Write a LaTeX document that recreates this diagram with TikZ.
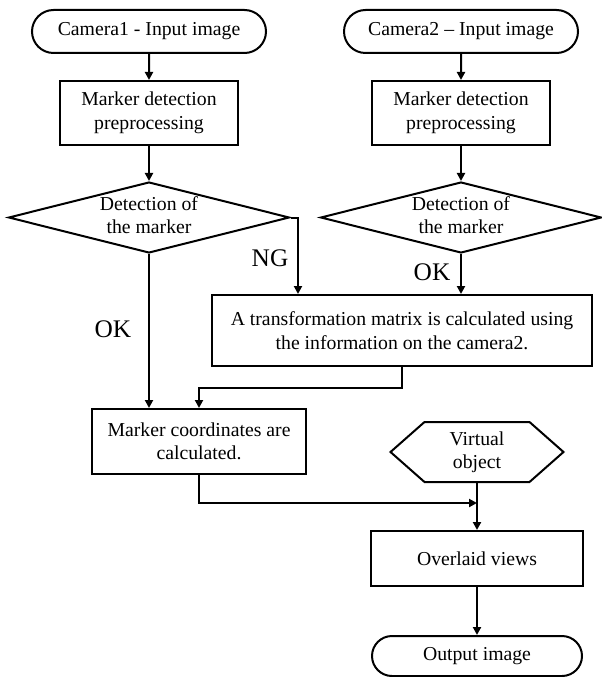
\documentclass[tikz,border=0pt]{standalone}
\usepackage{fontspec}
\setmainfont{Liberation Serif}
\usetikzlibrary{shapes.misc,shapes.geometric,arrows.meta}
\begin{document}
\begin{tikzpicture}[x=0.75pt,y=-0.75pt,
  line width=1.5pt,
  font=\fontsize{14.8}{17.6}\selectfont,
  term/.style={draw,rounded rectangle,inner sep=0pt,align=center},
  proc/.style={draw,rectangle,inner sep=0pt,align=center},
  dia/.style={draw,diamond,inner sep=0pt,minimum width=210.75pt,minimum height=53.25pt},
  txt/.style={inner sep=0pt,align=center},
  lbl/.style={inner sep=0pt,font=\fontsize{19}{22}\selectfont},
  arr/.style={-{Triangle[length=6pt,width=6pt]},line join=miter}]
\useasboundingbox (0,0) rectangle (601,677);

% left column
\node[term,minimum width=175.5pt,minimum height=32.25pt] (cam1) at (149,31.5) {Camera1 - Input image};
\node[proc,minimum width=133.5pt,minimum height=48pt] (mk1) at (149,113) {Marker detection\\preprocessing};
\node[dia] (d1) at (149,217.5) {};
\node[txt] (d1t) at (149,215) {Detection of\\the marker};

% right column
\node[term,minimum width=175.5pt,minimum height=32.25pt] (cam2) at (461,31.5) {Camera2 -- Input image};
\node[proc,minimum width=133.5pt,minimum height=48pt] (mk2) at (461,113) {Marker detection\\preprocessing};
\node[dia] (d2) at (461,217.5) {};
\node[txt] (d2t) at (461,215) {Detection of\\the marker};

\node[proc,minimum width=285pt,minimum height=53.25pt] (tr) at (402,330.5) {A transformation matrix is calculated using\\the information on the camera2.};

\node[proc,minimum width=160.5pt,minimum height=48.75pt] (mc) at (199,441.5) {Marker coordinates are\\calculated.};

% hexagon
\node[txt,minimum width=128.25pt,minimum height=43.5pt] (hex) at (477,452) {Virtual\\object};
\draw[line join=miter] (hex.west) -- ([xshift=25.5pt]hex.north west) -- ([xshift=-25.5pt]hex.north east)
  -- (hex.east) -- ([xshift=-25.5pt]hex.south east) -- ([xshift=25.5pt]hex.south west) -- cycle;

\node[proc,minimum width=159pt,minimum height=41.25pt] (ov) at (477,558.5) {Overlaid views};
\node[term,minimum width=157.5pt,minimum height=30pt] (out) at (477,656) {Output image};

% connectors
\draw[arr] (cam1) -- (mk1);
\draw[arr] (mk1) -- (d1);
\draw[arr] (cam2) -- (mk2);
\draw[arr] (mk2) -- (d2);
\coordinate (ngc) at (298,217.5);
\draw[arr] (d1.east) -- (ngc) -- (ngc |- tr.north);
\node[lbl] (ng) at (270,258) {NG};
\draw[arr] (d1.south) -- (d1.south |- mc.north);
\node[lbl] (ok1) at (113,329) {OK};
\draw[arr] (d2.south) -- (d2.south |- tr.north);
\node[lbl] (ok2) at (432,272) {OK};
\coordinate (tc) at (402,388);
\coordinate (tc2) at (199,388);
\draw[arr] (tr.south) -- (tc) -- (tc2) -- (mc.north);
\coordinate (mb) at (199,503);
\draw[arr] (mc.south) -- (mb) -- (hex.south |- mb);
\draw[arr] (hex.south) -- (ov.north);
\draw[arr] (ov.south) -- (out.north);
\end{tikzpicture}
\end{document}
